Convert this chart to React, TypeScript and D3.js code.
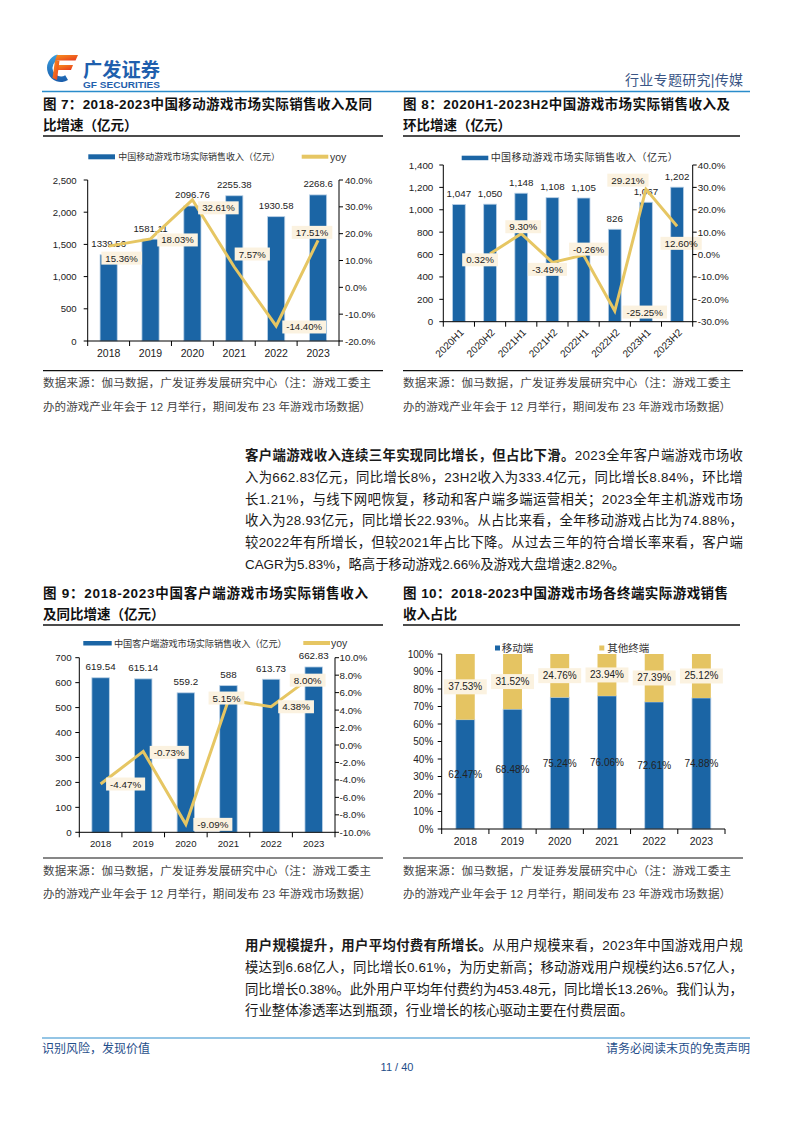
import React from "react";
import * as d3 from "d3";

// ---------- DATA ----------
const years = ["2018", "2019", "2020", "2021", "2022", "2023"];
const mobileRevenue = [1339.56, 1581.11, 2096.76, 2255.38, 1930.58, 2268.6];
const mobileYoy = [15.36, 18.03, 32.61, 7.57, -14.4, 17.51];

const halfYears = ["2020H1", "2020H2", "2021H1", "2021H2", "2022H1", "2022H2", "2023H1", "2023H2"];
const halfRevenue = [1047, 1050, 1148, 1108, 1105, 826, 1067, 1202];
const halfQoq: (number | null)[] = [null, 0.32, 9.3, -3.49, -0.26, -25.25, 29.21, 12.6];

const pcRevenue = [619.54, 615.14, 559.2, 588, 613.73, 662.83];
const pcYoy = [-4.47, -0.73, -9.09, 5.15, 4.38, 8.0];

const mobileShare = [62.47, 68.48, 75.24, 76.06, 72.61, 74.88];
const otherShare = [37.53, 31.52, 24.76, 23.94, 27.39, 25.12];

// label offsets (layout only): box centre relative to the line point
const off7: [number, number][] = [[13, 12], [27, 1], [26, 8], [18, -13], [28, 1], [-6, -8]];
const off8: [number, number][] = [[0, 0], [-10, 6], [2, -7], [-5, 7], [5, -6], [30, 1], [-18, -9], [4, 17]];
const off9: [number, number][] = [[25, 0], [26, 1], [27, 0], [-2, -2], [25, 0], [-6, 5]];

// ---------- STYLE ----------
const NUM = "'Liberation Sans', Arial, 'Noto Sans CJK SC', sans-serif";
const CJK = "'Liberation Sans', 'Noto Sans CJK SC', sans-serif";
const BLUE = "#1B65A5";
const BAR_EDGE = "#B9D0E6";
const GOLD = "#E6C663";
const STACK_GOLD = "#E5C462";
const BOX = "#FBF2E0";
const HEAD_BLUE = "#2A8CCB";
const DARK_BLUE = "#1F4E8A";

function textW(s: string, fs: number) {
  let w = 0;
  for (const c of s) {
    if (/[0-9]/.test(c)) w += 0.556;
    else if (c === "." || c === ",") w += 0.278;
    else if (c === "%") w += 0.889;
    else if (c === "-") w += 0.333;
    else w += 0.6;
  }
  return w * fs;
}

type ComboProps = {
  cats: string[];
  bars: number[];
  line: (number | null)[];
  left: number;
  right: number;
  top: number;
  bottom: number;
  barMax: number;
  barStep: number;
  lineMin: number;
  lineMax: number;
  lineStep: number;
  barFmt: (v: number) => string;
  leftFmt: (v: number) => string;
  offsets: [number, number][];
  rotate?: boolean;
  lGap: number;
  rGap: number;
  xOff: number;
  fs: number;
  xfs: number;
};

function Combo(p: ComboProps) {
  const x = d3.scaleBand<string>().domain(p.cats).range([p.left, p.right]);
  const yL = d3.scaleLinear().domain([0, p.barMax]).range([p.bottom, p.top]);
  const yR = d3.scaleLinear().domain([p.lineMin, p.lineMax]).range([p.bottom, p.top]);
  const bw = x.bandwidth() * 0.41;
  const cx = (c: string) => (x(c) as number) + x.bandwidth() / 2;
  const lTicks = d3.range(Math.round(p.barMax / p.barStep) + 1).map((i) => i * p.barStep);
  const nR = Math.round((p.lineMax - p.lineMin) / p.lineStep);
  const rTicks = d3.range(nR + 1).map((i) => p.lineMin + i * p.lineStep);
  const bounds = d3.range(p.cats.length + 1).map((i) => p.left + i * x.bandwidth());
  const pts = p.cats.map((c, i) => ({ c, v: p.line[i] }));
  const lineGen = d3
    .line<{ c: string; v: number | null }>()
    .defined((d) => d.v != null)
    .x((d) => cx(d.c))
    .y((d) => yR(d.v as number));
  return (
    <g fontFamily={NUM}>
      {p.cats.map((c, i) => (
        <rect
          key={"b" + c}
          x={cx(c) - bw / 2}
          y={yL(p.bars[i])}
          width={bw}
          height={p.bottom - yL(p.bars[i])}
          fill={BLUE}
          stroke={BAR_EDGE}
          strokeWidth={0.8}
        />
      ))}
      {p.cats.map((c, i) => (
        <text key={"bl" + c} x={cx(c)} y={yL(p.bars[i]) - 7.5} textAnchor="middle" fontSize={p.fs} fill="#222">
          {p.barFmt(p.bars[i])}
        </text>
      ))}
      <path d={lineGen(pts) || ""} fill="none" stroke={GOLD} strokeWidth={3} strokeLinejoin="miter" />
      {pts.map((d, i) => {
        if (d.v == null) return null;
        const t = d.v.toFixed(2) + "%";
        const w = textW(t, p.fs) + 8;
        const bx = cx(d.c) + p.offsets[i][0];
        const by = yR(d.v) + p.offsets[i][1];
        return (
          <g key={"ll" + d.c}>
            <rect x={bx - w / 2} y={by - 6.5} width={w} height={13} fill={BOX} />
            <text x={bx} y={by + 3.5} textAnchor="middle" fontSize={p.fs} fill="#222">
              {t}
            </text>
          </g>
        );
      })}
      {/* axes */}
      <line x1={p.left} x2={p.left} y1={p.top} y2={p.bottom} stroke="#000" />
      <line x1={p.right} x2={p.right} y1={p.top} y2={p.bottom} stroke="#000" />
      <line x1={p.left - 0.5} x2={p.right + 0.5} y1={p.bottom} y2={p.bottom} stroke="#000" />
      {lTicks.map((t) => (
        <g key={"lt" + t}>
          <line x1={p.left - 4} x2={p.left} y1={yL(t)} y2={yL(t)} stroke="#000" />
          <text x={p.left - p.lGap} y={yL(t) + 3.5} textAnchor="end" fontSize={p.fs} fill="#222">
            {p.leftFmt(t)}
          </text>
        </g>
      ))}
      {rTicks.map((t) => (
        <g key={"rt" + t}>
          <line x1={p.right} x2={p.right + 4} y1={yR(t)} y2={yR(t)} stroke="#000" />
          <text x={p.right + p.rGap} y={yR(t) + 3.5} textAnchor="start" fontSize={p.fs} fill="#222">
            {t.toFixed(1) + "%"}
          </text>
        </g>
      ))}
      {bounds.map((b, i) => (
        <line key={"xt" + i} x1={b} x2={b} y1={p.bottom} y2={p.bottom + 5} stroke="#000" />
      ))}
      {p.cats.map((c) =>
        p.rotate ? (
          <text
            key={"xl" + c}
            transform={`translate(${cx(c) + 3},${p.bottom + 9}) rotate(-45)`}
            textAnchor="end"
            dy="0.35em"
            fontSize={p.xfs}
            fill="#222"
          >
            {c}
          </text>
        ) : (
          <text key={"xl" + c} x={cx(c)} y={p.bottom + p.xOff} textAnchor="middle" fontSize={p.xfs} fill="#222">
            {c}
          </text>
        )
      )}
    </g>
  );
}

function Stacked() {
  const left = 441.7,
    right = 725,
    top = 654,
    bottom = 829;
  const x = d3.scaleBand<string>().domain(years).range([left, right]);
  const y = d3.scaleLinear().domain([0, 100]).range([bottom, top]);
  const bw = x.bandwidth() * 0.4;
  const cx = (c: string) => (x(c) as number) + x.bandwidth() / 2;
  const ticks = d3.range(11).map((i) => i * 10);
  const bounds = d3.range(years.length + 1).map((i) => left + i * x.bandwidth());
  return (
    <g fontFamily={NUM}>
      {years.map((c, i) => (
        <g key={"s" + c}>
          <rect x={cx(c) - bw / 2} y={y(mobileShare[i])} width={bw} height={bottom - y(mobileShare[i])} fill={BLUE} stroke={BAR_EDGE} strokeWidth={0.8} />
          <rect
            x={cx(c) - bw / 2}
            y={y(mobileShare[i] + otherShare[i])}
            width={bw}
            height={y(mobileShare[i]) - y(mobileShare[i] + otherShare[i])}
            fill={STACK_GOLD}
          />
        </g>
      ))}
      {years.map((c, i) => {
        const t = otherShare[i].toFixed(2) + "%";
        const w = textW(t, 10) + 9;
        const my = y(mobileShare[i] + otherShare[i] / 2);
        return (
          <g key={"sl" + c}>
            <rect x={cx(c) - w / 2} y={my - 7.5} width={w} height={15} fill={BOX} />
            <text x={cx(c)} y={my + 3.5} textAnchor="middle" fontSize={10} fill="#222">
              {t}
            </text>
            <text x={cx(c)} y={y(mobileShare[i] / 2) + 3.5} textAnchor="middle" fontSize={10} fill="#222">
              {mobileShare[i].toFixed(2) + "%"}
            </text>
          </g>
        );
      })}
      <line x1={left} x2={left} y1={top} y2={bottom} stroke="#000" />
      <line x1={left - 0.5} x2={right} y1={bottom} y2={bottom} stroke="#000" />
      {ticks.map((t) => (
        <g key={"st" + t}>
          <line x1={left - 4} x2={left} y1={y(t)} y2={y(t)} stroke="#000" />
          <text x={left - 8.4} y={y(t) + 3.5} textAnchor="end" fontSize={10} fill="#222">
            {t + "%"}
          </text>
        </g>
      ))}
      {bounds.map((b, i) => (
        <line key={"sx" + i} x1={b} x2={b} y1={bottom} y2={bottom + 5} stroke="#000" />
      ))}
      {years.map((c) => (
        <text key={"sxl" + c} x={cx(c)} y={bottom + 16} textAnchor="middle" fontSize={10.5} fill="#222">
          {c}
        </text>
      ))}
      {/* legend */}
      <rect x={495} y={645.5} width={5} height={5} fill={BLUE} />
      <text x={501.7} y={652} fontSize={10.5} fontFamily={CJK} fill="#333">
        移动端
      </text>
      <rect x={599.3} y={645.5} width={5} height={5} fill={STACK_GOLD} />
      <text x={607.3} y={652} fontSize={10.5} fontFamily={CJK} fill="#333">
        其他终端
      </text>
    </g>
  );
}

function Logo() {
  const arc = d3.arc<any>()({ innerRadius: 8.5, outerRadius: 14, startAngle: (150 * Math.PI) / 180, endAngle: (345 * Math.PI) / 180 }) || "";
  return (
    <g>
      <defs>
        <linearGradient id="lgB" x1="0" y1="0" x2="0" y2="1">
          <stop offset="0" stopColor="#3AA0E0" />
          <stop offset="1" stopColor="#1A5DAB" />
        </linearGradient>
        <linearGradient id="lgO" x1="0" y1="0" x2="1" y2="1">
          <stop offset="0" stopColor="#F7931E" />
          <stop offset="1" stopColor="#E8381E" />
        </linearGradient>
      </defs>
      <path d={arc} transform="translate(61,68)" fill="url(#lgB)" />
      <path d="M57,55 L78,55 L75.5,60.5 L55,60.5 Z" fill="url(#lgO)" />
      <path d="M57,65 L73,65 L71,70 L55.5,70 Z" fill="url(#lgO)" />
      <path d="M55,60.5 L59.5,60.5 L57,80 L52.5,78 Z" fill="url(#lgO)" />
      <text x={83} y={77} fontSize={19} fontWeight="bold" fill="#1F5FAD" fontFamily={CJK} textLength={77} lengthAdjust="spacingAndGlyphs">
        广发证券
      </text>
      <text x={83} y={87.5} fontSize={8.5} fontWeight="bold" fill="#1F5FAD" fontFamily={NUM} textLength={77} lengthAdjust="spacingAndGlyphs">
        GF SECURITIES
      </text>
    </g>
  );
}

function Title({ x, y, w, l1, l2, lineW }: { x: number; y: number; w: number; l1: string; l2: string; lineW: number }) {
  return (
    <g fontFamily={CJK} fontWeight="bold" fontSize={13.5} fill="#111">
      <text x={x} y={y} textLength={w} lengthAdjust="spacing">
        {l1}
      </text>
      <text x={x} y={y + 20.5}>{l2}</text>
      <line x1={x} x2={x + lineW} y1={y + 27} y2={y + 27} stroke="#111" strokeWidth={1.3} />
    </g>
  );
}

function Source({ x, y }: { x: number; y: number }) {
  return (
    <g fontFamily={CJK} fontSize={11.5} fill="#444">
      <line x1={x} x2={x + 340} y1={y} y2={y} stroke="#111" strokeWidth={1.2} />
      <text x={x} y={y + 16.5} textLength={328} lengthAdjust="spacing">
        数据来源：伽马数据，广发证券发展研究中心（注：游戏工委主
      </text>
      <text x={x} y={y + 40} textLength={328} lengthAdjust="spacing">
        办的游戏产业年会于 12 月举行，期间发布 23 年游戏市场数据）
      </text>
    </g>
  );
}

function Para({ y, lines, bold, last }: { y: number; lines: string[]; bold: string; last: string }) {
  return (
    <g fontFamily={CJK} fontSize={13.4} fill="#1a1a1a">
      {lines.map((l, i) => (
        <text key={i} x={245} y={y + i * 21.75} textLength={498} lengthAdjust="spacing">
          {i === 0 ? (
            <>
              <tspan fontWeight="bold">{bold}</tspan>
              {l}
            </>
          ) : (
            l
          )}
        </text>
      ))}
      <text x={245} y={y + lines.length * 21.75}>
        {last}
      </text>
    </g>
  );
}

export default function App() {
  const fmtRaw = (v: number) => String(v);
  const fmtComma = d3.format(",");
  return (
    <div style={{ position: "absolute", left: 0, top: 0 }}>
      <svg width={794} height={1123} style={{ display: "block", background: "#fff" }}>
        {/* header */}
        <Logo />
        <text x={743} y={85} textAnchor="end" fontSize={14} fontFamily={CJK} fill="#3A5585" textLength={118} lengthAdjust="spacing">
          行业专题研究|传媒
        </text>
        <line x1={42} x2={750} y1={91.5} y2={91.5} stroke={HEAD_BLUE} strokeWidth={1.3} />

        {/* Fig 7 */}
        <Title x={43} y={109} w={329} l1="图 7：2018-2023中国移动游戏市场实际销售收入及同" l2="比增速（亿元）" lineW={340} />
        <rect x={88.3} y={154.3} width={26.7} height={5} fill={BLUE} />
        <text x={118.3} y={160} fontSize={9} fontFamily={CJK} fill="#333" textLength={161.7} lengthAdjust="spacing">
          中国移动游戏市场实际销售收入（亿元）
        </text>
        <line x1={301.7} x2={328.3} y1={156.7} y2={156.7} stroke={GOLD} strokeWidth={4} />
        <text x={330} y={160.5} fontSize={10.5} fontFamily={NUM} fill="#333">
          yoy
        </text>
        <Combo
          cats={years}
          bars={mobileRevenue}
          line={mobileYoy}
          left={87.7}
          right={339}
          top={180}
          bottom={341}
          barMax={2500}
          barStep={500}
          lineMin={-20}
          lineMax={40}
          lineStep={10}
          barFmt={fmtRaw}
          leftFmt={fmtComma}
          offsets={off7}
          lGap={11}
          rGap={6}
          xOff={16}
          fs={9.6}
          xfs={10.5}
        />
        <Source x={43} y={370.7} />

        {/* Fig 8 */}
        <Title x={403} y={109} w={327} l1="图 8：2020H1-2023H2中国游戏市场实际销售收入及" l2="环比增速（亿元）" lineW={337} />
        <rect x={461.7} y={155.7} width={26.6} height={4.5} fill={BLUE} />
        <text x={490.7} y={161} fontSize={10} fontFamily={CJK} fill="#333" textLength={187} lengthAdjust="spacing">
          中国移动游戏市场实际销售收入（亿元）
        </text>
        <Combo
          cats={halfYears}
          bars={halfRevenue}
          line={halfQoq}
          left={443.3}
          right={692.7}
          top={165}
          bottom={321.7}
          barMax={1400}
          barStep={200}
          lineMin={-30}
          lineMax={40}
          lineStep={10}
          barFmt={fmtComma}
          leftFmt={fmtComma}
          offsets={off8}
          rotate
          lGap={10}
          rGap={5}
          xOff={16}
          fs={9.8}
          xfs={10}
        />
        <Source x={403} y={370.7} />

        {/* Paragraph 1 */}
        <Para
          y={460}
          bold="客户端游戏收入连续三年实现同比增长，但占比下滑。"
          lines={[
            "2023全年客户端游戏市场收",
            "入为662.83亿元，同比增长8%，23H2收入为333.4亿元，同比增长8.84%，环比增",
            "长1.21%，与线下网吧恢复，移动和客户端多端运营相关；2023全年主机游戏市场",
            "收入为28.93亿元，同比增长22.93%。从占比来看，全年移动游戏占比为74.88%，",
            "较2022年有所增长，但较2021年占比下降。从过去三年的符合增长率来看，客户端",
          ]}
          last="CAGR为5.83%，略高于移动游戏2.66%及游戏大盘增速2.82%。"
        />

        {/* Fig 9 */}
        <Title x={43} y={598} w={325} l1="图 9：2018-2023中国客户端游戏市场实际销售收入" l2="及同比增速（亿元）" lineW={340} />
        <rect x={83.3} y={641} width={28.4} height={4.5} fill={BLUE} />
        <text x={114} y={646.5} fontSize={9.2} fontFamily={CJK} fill="#333" textLength={172.7} lengthAdjust="spacing">
          中国客户端游戏市场实际销售收入（亿元）
        </text>
        <line x1={303.3} x2={330} y1={643} y2={643} stroke={GOLD} strokeWidth={4} />
        <text x={331} y={647} fontSize={10.5} fontFamily={NUM} fill="#333">
          yoy
        </text>
        <Combo
          cats={years}
          bars={pcRevenue}
          line={pcYoy}
          left={79.3}
          right={335}
          top={657.7}
          bottom={832.3}
          barMax={700}
          barStep={100}
          lineMin={-10}
          lineMax={10}
          lineStep={2}
          barFmt={fmtRaw}
          leftFmt={fmtRaw}
          offsets={off9}
          lGap={7.6}
          rGap={4.5}
          xOff={14.5}
          fs={9.8}
          xfs={9.6}
        />
        <Source x={43} y={858} />

        {/* Fig 10 */}
        <Title x={403} y={598} w={325} l1="图 10：2018-2023中国游戏市场各终端实际游戏销售" l2="收入占比" lineW={337} />
        <Stacked />
        <Source x={403} y={858} />

        {/* Paragraph 2 */}
        <Para
          y={950}
          bold="用户规模提升，用户平均付费有所增长。"
          lines={[
            "从用户规模来看，2023年中国游戏用户规",
            "模达到6.68亿人，同比增长0.61%，为历史新高；移动游戏用户规模约达6.57亿人，",
            "同比增长0.38%。此外用户平均年付费约为453.48元，同比增长13.26%。我们认为，",
          ]}
          last="行业整体渗透率达到瓶颈，行业增长的核心驱动主要在付费层面。"
        />

        {/* footer */}
        <line x1={42} x2={750} y1={1038} y2={1038} stroke={HEAD_BLUE} strokeWidth={1.2} />
        <text x={42} y={1053} fontSize={12} fontFamily={CJK} fill={DARK_BLUE}>
          识别风险，发现价值
        </text>
        <text x={750} y={1053} fontSize={12} fontFamily={CJK} fill={DARK_BLUE} textAnchor="end">
          请务必阅读末页的免责声明
        </text>
        <text x={397} y={1071} fontSize={11} fontFamily={NUM} fill={DARK_BLUE} textAnchor="middle">
          11 / 40
        </text>
      </svg>
    </div>
  );
}
